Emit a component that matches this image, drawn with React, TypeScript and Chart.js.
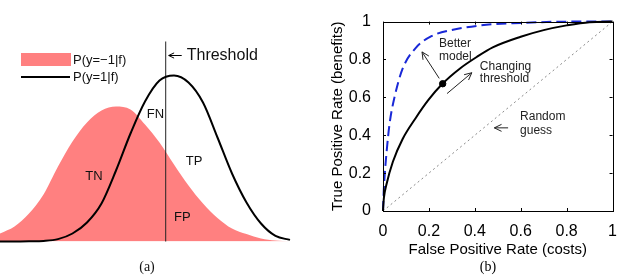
import React, { useEffect, useRef } from "react";
import { Chart, registerables } from "chart.js";
Chart.register(...registerables);

// ---------- Panel (a): class-conditional score densities ----------
const scoreValues = [-5, -4.5, -4, -3.5, -3, -2.5, -2, -1.5, -1, -0.5, 0, 0.5, 1, 1.5, 2, 2.5, 3, 3.5, 4, 4.5, 5];
const negDensity = [0.04, 0.075, 0.14, 0.235, 0.375, 0.5, 0.595, 0.655, 0.675, 0.66, 0.585, 0.495, 0.385, 0.28, 0.19, 0.118, 0.065, 0.037, 0.015, 0.005, 0.0];
const posDensity = [0.0, 0.0, 0.001, 0.003, 0.012, 0.04, 0.095, 0.19, 0.355, 0.54, 0.7, 0.805, 0.83, 0.795, 0.695, 0.52, 0.34, 0.195, 0.09, 0.028, 0.008];
const thresholdScore = 0.714;
const thresholdSpan = [0, 1];
const legendLabels = ["P(y=\u22121|f)", "P(y=1|f)"];
const regionLabels = ["TN", "FN", "TP", "FP"];

// ---------- Panel (b): ROC curves ----------
const rocFpr = [0, 0.001, 0.004, 0.015, 0.043, 0.085, 0.142, 0.197, 0.26, 0.337, 0.408, 0.478, 0.6, 0.7, 0.8, 0.9, 1];
const rocTpr = [0, 0.022, 0.07, 0.14, 0.26, 0.379, 0.49, 0.585, 0.673, 0.754, 0.813, 0.864, 0.92, 0.955, 0.98, 0.997, 1];
const betterFpr = [0, 0.003, 0.008, 0.0155, 0.029, 0.05, 0.085, 0.142, 0.211, 0.31, 0.45, 0.6, 0.75, 0.85, 1];
const betterTpr = [0, 0.1, 0.2, 0.31, 0.464, 0.6, 0.75, 0.86, 0.923, 0.958, 0.983, 0.993, 0.999, 1, 1];
const randomFpr = [0, 1];
const randomTpr = [0, 1];
const operatingFpr = [0.26];
const operatingTpr = [0.672];
const axisTicks = [0, 0.2, 0.4, 0.6, 0.8, 1];

const SANS = "'Liberation Sans', Arial, Helvetica, sans-serif";
const SERIF = "'Liberation Serif', 'Times New Roman', serif";

function zip(xs: number[], ys: number[]) {
  return xs.map((x, i) => ({ x, y: ys[i] }));
}

function fmtTick(v: number) {
  return String(Math.round(v * 10) / 10);
}

function drawArrow(ctx: CanvasRenderingContext2D, x1: number, y1: number, x2: number, y2: number, head = 7) {
  const a = Math.atan2(y2 - y1, x2 - x1);
  ctx.beginPath();
  ctx.moveTo(x1, y1);
  ctx.lineTo(x2, y2);
  ctx.moveTo(x2 - head * Math.cos(a - 0.45), y2 - head * Math.sin(a - 0.45));
  ctx.lineTo(x2, y2);
  ctx.lineTo(x2 - head * Math.cos(a + 0.45), y2 - head * Math.sin(a + 0.45));
  ctx.stroke();
}

const leftPlugin = {
  id: "leftDecor",
  afterDatasetsDraw(chart: any) {
    const { ctx } = chart;
    const xs = chart.scales.x;
    const ys = chart.scales.y;
    const ca = chart.chartArea;
    ctx.save();
    // legend
    const lx = ca.left + 21;
    ctx.fillStyle = "rgb(255,128,128)";
    ctx.fillRect(lx, 53, 50, 13);
    ctx.strokeStyle = "#000";
    ctx.lineWidth = 2;
    ctx.beginPath();
    ctx.moveTo(lx, 77);
    ctx.lineTo(lx + 49, 77);
    ctx.stroke();
    ctx.fillStyle = "#111";
    ctx.font = `13px ${SANS}`;
    ctx.textAlign = "left";
    ctx.textBaseline = "middle";
    ctx.fillText(legendLabels[0], lx + 52, 60);
    ctx.fillText(legendLabels[1], lx + 52, 77);
    // threshold annotation
    const tx = xs.getPixelForValue(thresholdScore);
    const ty = ys.getPixelForValue(0.93);
    ctx.lineWidth = 1;
    drawArrow(ctx, tx + 16, ty, tx + 3, ty, 6);
    ctx.font = `16px ${SANS}`;
    ctx.fillText("Threshold", tx + 21, ty);
    // region labels
    ctx.font = `13px ${SANS}`;
    ctx.textAlign = "center";
    const pos = [
      [-1.76, 0.327],
      [0.36, 0.637],
      [1.69, 0.4],
      [1.29, 0.12],
    ];
    regionLabels.forEach((t, i) => {
      ctx.fillText(t, xs.getPixelForValue(pos[i][0]), ys.getPixelForValue(pos[i][1]));
    });
    ctx.font = `14px ${SERIF}`;
    ctx.fillText("(a)", 147, 267);
    ctx.restore();
  },
};

const rightPlugin = {
  id: "rightDecor",
  afterDatasetsDraw(chart: any) {
    const { ctx } = chart;
    const xs = chart.scales.x;
    const ys = chart.scales.y;
    const ca = chart.chartArea;
    ctx.save();
    ctx.strokeStyle = "#000";
    ctx.lineWidth = 1;
    ctx.strokeRect(Math.round(ca.left) + 0.5, Math.round(ca.top) + 0.5, Math.round(ca.right - ca.left), Math.round(ca.bottom - ca.top));
    // inward tick marks
    const tl = 3;
    ctx.beginPath();
    axisTicks.forEach((v) => {
      const px = Math.round(xs.getPixelForValue(v)) + 0.5;
      ctx.moveTo(px, ca.bottom);
      ctx.lineTo(px, ca.bottom - tl);
      ctx.moveTo(px, ca.top);
      ctx.lineTo(px, ca.top + tl);
      const py = Math.round(ys.getPixelForValue(v)) + 0.5;
      ctx.moveTo(ca.left, py);
      ctx.lineTo(ca.left + tl, py);
      ctx.moveTo(ca.right, py);
      ctx.lineTo(ca.right - tl, py);
    });
    ctx.stroke();
    // annotations
    const P = (x: number, y: number) => [xs.getPixelForValue(x), ys.getPixelForValue(y)];
    ctx.strokeStyle = "#222";
    let a = P(0.245, 0.7), b = P(0.17, 0.84);
    drawArrow(ctx, a[0], a[1], b[0], b[1], 8);
    a = P(0.279, 0.62); b = P(0.387, 0.73);
    drawArrow(ctx, a[0], a[1], b[0], b[1], 8);
    a = P(0.545, 0.439); b = P(0.485, 0.439);
    drawArrow(ctx, a[0], a[1], b[0], b[1], 8);
    ctx.fillStyle = "#222";
    ctx.font = `12px ${SANS}`;
    ctx.textAlign = "left";
    ctx.textBaseline = "middle";
    const txt = (s: string, x: number, y: number) => {
      const p = P(x, y);
      ctx.fillText(s, p[0], p[1]);
    };
    txt("Better", 0.244, 0.886);
    txt("model", 0.244, 0.813);
    txt("Changing", 0.422, 0.762);
    txt("threshold", 0.422, 0.699);
    txt("Random", 0.597, 0.498);
    txt("guess", 0.597, 0.425);
    ctx.fillStyle = "#000";
    ctx.textAlign = "center";
    ctx.font = `14px ${SERIF}`;
    ctx.fillText("(b)", 168, 267);
    ctx.restore();
  },
};

export default function App() {
  const leftRef = useRef<HTMLCanvasElement>(null);
  const rightRef = useRef<HTMLCanvasElement>(null);

  useEffect(() => {
    const left = new Chart(leftRef.current as HTMLCanvasElement, {
      type: "line",
      data: {
        datasets: [
          {
            data: zip(scoreValues, negDensity),
            borderWidth: 0,
            borderColor: "rgba(0,0,0,0)",
            backgroundColor: "rgb(255,128,128)",
            fill: "origin",
            pointRadius: 0,
            cubicInterpolationMode: "monotone",
            clip: false,
            order: 3,
          } as any,
          {
            data: thresholdSpan.map((y) => ({ x: thresholdScore, y })),
            borderColor: "#222",
            borderWidth: 1,
            pointRadius: 0,
            fill: false,
            clip: false,
            order: 2,
          } as any,
          {
            data: zip(scoreValues, posDensity),
            borderColor: "#000",
            borderWidth: 2,
            pointRadius: 0,
            fill: false,
            cubicInterpolationMode: "monotone",
            clip: false,
            order: 1,
          } as any,
        ],
      },
      options: {
        animation: false,
        responsive: false,
        devicePixelRatio: 1,
        layout: { padding: { left: 0, right: 30, top: 41.5, bottom: 38.5 } },
        plugins: { legend: { display: false }, tooltip: { enabled: false } },
        scales: {
          x: { type: "linear", min: -5, max: 5, display: false },
          y: { type: "linear", min: 0, max: 1, display: false },
        },
      } as any,
      plugins: [leftPlugin],
    });

    const right = new Chart(rightRef.current as HTMLCanvasElement, {
      type: "scatter",
      data: {
        datasets: [
          {
            data: zip(operatingFpr, operatingTpr),
            pointRadius: 3.2,
            borderWidth: 1,
            pointBackgroundColor: "#000",
            pointBorderColor: "#000",
            showLine: false,
            order: 1,
          } as any,
          {
            data: zip(rocFpr, rocTpr),
            showLine: true,
            borderColor: "#000",
            borderWidth: 2,
            pointRadius: 0,
            cubicInterpolationMode: "monotone",
            clip: false,
            order: 2,
          } as any,
          {
            data: zip(betterFpr, betterTpr),
            showLine: true,
            borderColor: "rgb(25,40,215)",
            borderWidth: 2,
            borderDash: [10, 5],
            pointRadius: 0,
            cubicInterpolationMode: "monotone",
            clip: false,
            order: 3,
          } as any,
          {
            data: zip(randomFpr, randomTpr),
            showLine: true,
            borderColor: "#8a8a8a",
            borderWidth: 1,
            borderDash: [2, 3],
            pointRadius: 0,
            order: 4,
          } as any,
        ],
      },
      options: {
        animation: false,
        responsive: false,
        devicePixelRatio: 1,
        layout: { padding: { left: 0, right: 7, top: 15, bottom: 0 } },
        plugins: { legend: { display: false }, tooltip: { enabled: false } },
        scales: {
          x: {
            type: "linear",
            min: 0,
            max: 1,
            afterBuildTicks: (s: any) => {
              s.ticks = axisTicks.map((v) => ({ value: v }));
            },
            afterFit: (s: any) => {
              s.height = 69;
            },
            grid: { display: false, drawTicks: false },
            border: { display: false },
            ticks: {
              color: "#000",
              font: { size: 16, family: SANS },
              padding: 11,
              maxRotation: 0,
              autoSkip: false,
              callback: (v: any) => fmtTick(Number(v)),
            },
            title: {
              display: true,
              text: "False Positive Rate (costs)",
              color: "#000",
              font: { size: 15, family: SANS },
              padding: { top: 0, bottom: 21 },
            },
          },
          y: {
            type: "linear",
            min: 0,
            max: 1,
            afterBuildTicks: (s: any) => {
              s.ticks = axisTicks.map((v) => ({ value: v }));
            },
            afterFit: (s: any) => {
              s.width = 63;
            },
            grid: { display: false, drawTicks: false },
            border: { display: false },
            ticks: {
              color: "#000",
              font: { size: 16, family: SANS },
              padding: 12,
              autoSkip: false,
              callback: (v: any) => fmtTick(Number(v)),
            },
            title: {
              display: true,
              text: "True Positive Rate (benefits)",
              color: "#000",
              font: { size: 15, family: SANS },
              padding: { top: 9, bottom: 0 },
            },
          },
        },
      } as any,
      plugins: [rightPlugin],
    });

    return () => {
      left.destroy();
      right.destroy();
    };
  }, []);

  return (
    <div style={{ position: "absolute", left: 0, top: 0, width: 628, height: 280, background: "#fff" }}>
      <canvas ref={leftRef} width={320} height={280} style={{ position: "absolute", left: 0, top: 0 }} />
      <canvas ref={rightRef} width={308} height={280} style={{ position: "absolute", left: 320, top: 0 }} />
    </div>
  );
}
